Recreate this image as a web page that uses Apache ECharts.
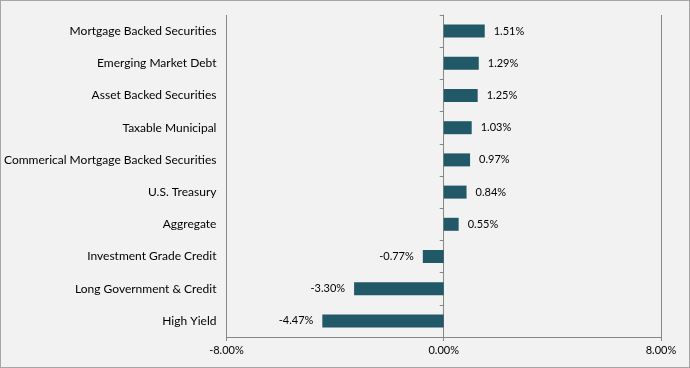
<!DOCTYPE html>
<html><head><meta charset="utf-8">
<script src="https://cdn.jsdelivr.net/npm/echarts@6/dist/echarts.min.js"></script>
<style>
html,body{margin:0;padding:0;background:#f2f2f2;}
#c{width:690px;height:368px;box-sizing:border-box;border:1px solid #a6a6a6;background:#f2f2f2;}
</style></head>
<body><div id="c"></div>
<script>
const categories = ["Mortgage Backed Securities","Emerging Market Debt","Asset Backed Securities","Taxable Municipal","Commerical Mortgage Backed Securities","U.S. Treasury","Aggregate","Investment Grade Credit","Long Government & Credit","High Yield"];
const values = [1.51,1.29,1.25,1.03,0.97,0.84,0.55,-0.77,-3.30,-4.47];
const xTicks = [-8, 0, 8];

const chart = echarts.init(document.getElementById('c'), null, {renderer:'canvas'});
const font = 'Lato, "Open Sans", sans-serif';
chart.setOption({
  animation:false,
  backgroundColor:'#f2f2f2',
  grid:{left:220,right:28,top:14,bottom:30,containLabel:false},
  xAxis:{type:'value',min:xTicks[0],max:xTicks[xTicks.length-1],interval:8,
    axisLine:{show:true,lineStyle:{color:'#868686'}},
    axisTick:{show:true,length:4,lineStyle:{color:'#868686'}},
    splitLine:{show:true,lineStyle:{color:'#868686',width:1}},
    axisLabel:{color:'#000',fontFamily:font,fontSize:11,margin:8,formatter:v=>v.toFixed(2)+'%'}},
  yAxis:[
    {type:'category',data:categories,inverse:true,
      axisLine:{show:true,onZero:true,lineStyle:{color:'#868686'}},
      axisTick:{show:true,length:4,lineStyle:{color:'#868686'}},
      axisLabel:{show:false}},
    {type:'category',data:categories,inverse:true,position:'left',
      axisLine:{show:false,onZero:false},axisTick:{show:false},
      axisLabel:{show:true,color:'#000',fontFamily:font,fontSize:12,margin:10}}
  ],
  series:[{type:'bar',data:values.map(v=>({value:v,label:{position:v>=0?'right':'left'}})),
    barWidth:13,itemStyle:{color:'#215968'},
    label:{show:true,distance:9,color:'#000',fontFamily:font,fontSize:11,formatter:p=>p.value.toFixed(2)+'%'}}]
});
</script></body></html>
